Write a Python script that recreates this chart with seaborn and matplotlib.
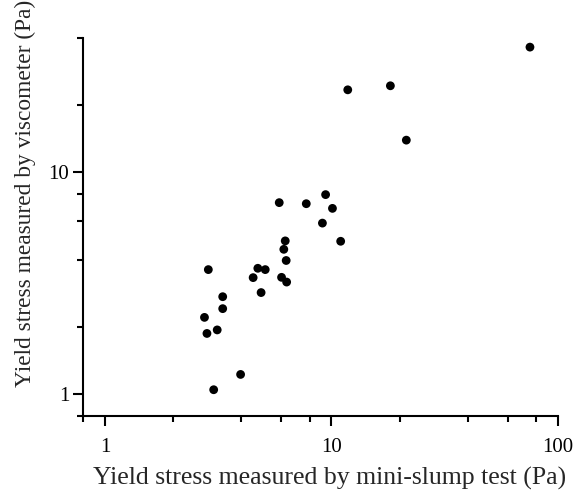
import pandas as pd
import seaborn as sns
import matplotlib.pyplot as plt
import matplotlib.ticker as ticker

# Yield stress (Pa): mini-slump test vs viscometer
slump_pa = [75.2, 11.8, 18.2, 21.4, 5.88, 7.74, 9.42, 10.1, 9.12, 10.98,
            6.25, 6.16, 6.31, 6.02, 6.34, 4.73, 5.10, 4.51, 4.89, 2.86,
            3.31, 3.31, 2.75, 2.82, 3.13, 3.97, 3.02]
visco_pa = [36.4, 23.4, 24.4, 13.9, 7.28, 7.20, 7.91, 6.86, 5.89, 4.88,
            4.90, 4.49, 4.00, 3.36, 3.20, 3.69, 3.64, 3.35, 2.87, 3.64,
            2.75, 2.43, 2.22, 1.88, 1.95, 1.23, 1.05]

df = pd.DataFrame({'slump': slump_pa, 'visco': visco_pa})

sns.set_style('ticks')
plt.rcParams['font.family'] = ['Liberation Serif', 'DejaVu Serif']

fig = plt.figure(figsize=(5.78, 4.95), dpi=100)
ax = fig.add_axes([0.1436, 0.1596, 0.8218, 0.7636])

sns.scatterplot(data=df, x='slump', y='visco', ax=ax, color='black',
                s=40, edgecolor='none', legend=False)

ax.set_xscale('log')
ax.set_yscale('log')
ax.set_xlim(0.8, 100)
ax.set_ylim(0.8, 40)

ax.xaxis.set_major_locator(ticker.FixedLocator([1, 10, 100]))
ax.xaxis.set_major_formatter(ticker.FixedFormatter(['1', '10', '100']))
ax.xaxis.set_minor_locator(ticker.LogLocator(base=10, subs=[2, 4, 6, 8]))
ax.xaxis.set_minor_formatter(ticker.NullFormatter())
ax.yaxis.set_major_locator(ticker.FixedLocator([1, 10]))
ax.yaxis.set_major_formatter(ticker.FixedFormatter(['1', '10']))
ax.yaxis.set_minor_locator(ticker.LogLocator(base=10, subs=[2, 4, 6, 8]))
ax.yaxis.set_minor_formatter(ticker.NullFormatter())

for side in ['top', 'right']:
    ax.spines[side].set_visible(False)
for side in ['left', 'bottom']:
    ax.spines[side].set_linewidth(1.5)
    ax.spines[side].set_color('black')

ax.tick_params(which='major', length=7, width=1.5, labelsize=15, colors='black')
ax.tick_params(axis='x', which='major', pad=9)
ax.tick_params(axis='y', which='major', pad=3)
ax.tick_params(which='minor', length=4, width=1.5, colors='black')

ax.set_xlabel('Yield stress measured by mini-slump test (Pa)', fontsize=18.5)
ax.set_ylabel('Yield stress measured by viscometer (Pa)', fontsize=16.8)
ax.xaxis.set_label_coords(0.52, -0.135)
ax.yaxis.set_label_coords(-0.099, 0.59)

fig.savefig('out.png', dpi=100)
